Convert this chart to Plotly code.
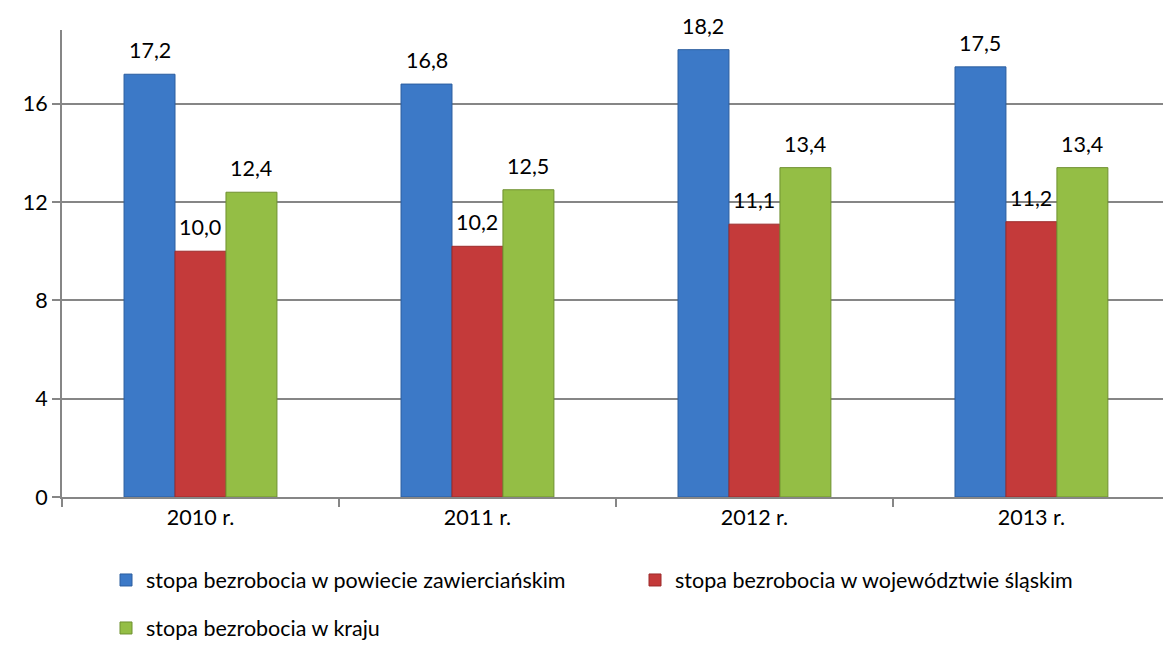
import plotly.graph_objects as go

categories = ["2010 r.", "2011 r.", "2012 r.", "2013 r."]
series_names = [
    "stopa bezrobocia w powiecie zawierciańskim",
    "stopa bezrobocia w województwie śląskim",
    "stopa bezrobocia w kraju",
]
powiat = [17.2, 16.8, 18.2, 17.5]
wojewodztwo = [10.0, 10.2, 11.1, 11.2]
kraj = [12.4, 12.5, 13.4, 13.4]
y_ticks = [0, 4, 8, 12, 16]

values = [powiat, wojewodztwo, kraj]
colors = ["#3C79C7", "#C43A3A", "#94BE45"]
edges = ["#2C5E9F", "#9C2B2B", "#6F9130"]
legends = ["legend", "legend", "legend2"]

FONT = "Lato"
FS = 21.5
W, H = 1163, 648
ML, MR, MT, MB = 62, 0, 30, 151
plot_w = W - ML - MR
x_range = [-0.5, 3.475]
px_per_cat = plot_w / (x_range[1] - x_range[0])
bargap = 0.448
bar_px = px_per_cat * (1 - bargap) / 3

fig = go.Figure()
for i, (name, vals) in enumerate(zip(series_names, values)):
    fig.add_trace(go.Bar(
        x=categories, y=vals, name=name,
        marker=dict(color=colors[i], line=dict(color=edges[i], width=1)),
        legend=legends[i],
    ))
    for c, v in zip(categories, vals):
        fig.add_annotation(
            x=c, y=v, xref="x", yref="y",
            text=f"{v:.1f}".replace(".", ","),
            showarrow=False, yanchor="bottom",
            xshift=(i - 1) * bar_px, yshift=9,
            font=dict(family=FONT, size=FS, color="#000000"),
        )

fig.update_layout(
    width=W, height=H,
    margin=dict(l=ML, r=MR, t=MT, b=MB, autoexpand=False),
    paper_bgcolor="white", plot_bgcolor="white",
    barmode="group", bargap=bargap, bargroupgap=0,
    font=dict(family=FONT, size=FS, color="#000000"),
    showlegend=True,
    legend=dict(
        orientation="h", xref="container", yref="container",
        x=(106 / W), y=1 - 580 / H, xanchor="left", yanchor="middle",
        entrywidth=484, font=dict(family=FONT, size=FS, color="#000000"),
        itemwidth=30, bgcolor="rgba(0,0,0,0)",
    ),
    legend2=dict(
        orientation="h", xref="container", yref="container",
        x=(106 / W), y=1 - 628 / H, xanchor="left", yanchor="middle",
        font=dict(family=FONT, size=FS, color="#000000"),
        itemwidth=30, bgcolor="rgba(0,0,0,0)",
    ),
)
fig.update_xaxes(
    type="category", range=x_range, automargin=False,
    showline=True, linecolor="#868686", linewidth=2,
    ticks="outside", tickson="boundaries", ticklen=8, tickcolor="#868686", tickwidth=2,
    showgrid=False, tickfont=dict(family=FONT, size=FS, color="#000000"),
)
fig.update_yaxes(
    range=[0, 19], tickvals=y_ticks, automargin=False,
    showline=True, linecolor="#868686", linewidth=2,
    ticks="outside", ticklen=8, tickcolor="#868686", tickwidth=2,
    showgrid=True, gridcolor="#868686", gridwidth=1.5, zeroline=False,
    tickfont=dict(family=FONT, size=FS, color="#000000"),
)

fig.write_html(
    "out.html",
    config={"displayModeBar": False},
    post_script="document.body.style.margin='0';",
)
